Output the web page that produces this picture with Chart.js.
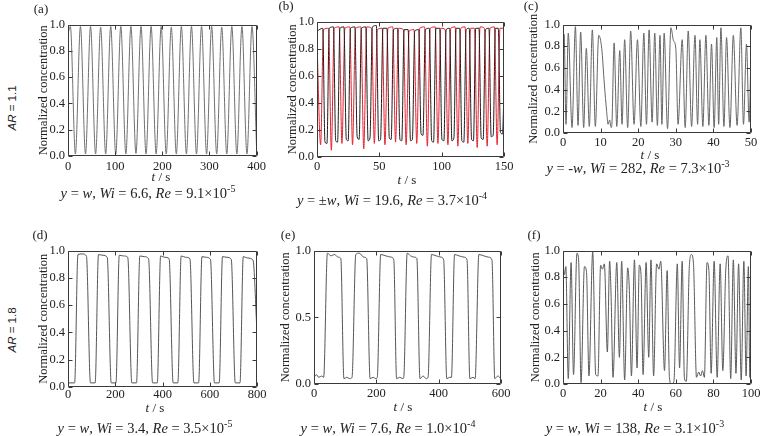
<!DOCTYPE html>
<html>
<head>
<meta charset="utf-8">
<script src="https://cdn.jsdelivr.net/npm/chart.js@4.4.1/dist/chart.umd.min.js"></script>
<style>
	body { margin: 0; background: #fff; }
	#figure { position: relative; width: 760px; height: 436px; overflow: hidden; background: #fff; font-family: 'Liberation Serif', serif; color: #222; }
	#figure canvas { position: absolute; }
	.txt { position: absolute; transform: translate( -50%, -50% ); white-space: nowrap; }
	.cap { font-size: 14.5px; }
	.cap sup { font-size: 10px; vertical-align: 6px; line-height: 0; }
	.lab { font-size: 13px; }
	.ar { font-family: 'Liberation Sans', sans-serif; font-size: 11.5px; transform: translate( -50%, -50% ) rotate( -90deg ); }
</style>
</head>
<body>
<div id="figure"></div>
<script>
// (a) AR = 1.1, y = w
const aTime = [ 0, 5, 15.7, 26.4, 37.1, 47.8, 58.5, 69.2, 79.9, 90.6, 101.3, 112, 122.7, 133.4, 144.1, 154.8, 165.5, 176.2, 186.9, 197.6,
	208.3, 219, 229.7, 240.4, 251.1, 261.8, 272.5, 283.2, 293.9, 304.6, 315.3, 326, 336.7, 347.4, 358.1, 368.8, 379.5, 390.2, 400 ];
const aConc = [ 0.93, 0.985, 0.015, 0.985, 0.015, 0.985, 0.015, 0.98, 0.015, 0.985, 0.015, 0.985, 0.015, 0.985, 0.02, 0.985, 0.015, 0.985, 0.015, 0.985,
	0.015, 0.98, 0.015, 0.985, 0.015, 0.985, 0.015, 0.985, 0.015, 0.985, 0.015, 0.98, 0.015, 0.985, 0.015, 0.985, 0.015, 0.985, 0.05 ];

// (b) AR = 1.1, y = +w (black) and y = -w (red)
const bTime = [ 0,
	4.6, 6.4, 8.0, 9.8, 13.2, 15.0, 16.5, 18.4, 21.6, 23.5, 25.0, 26.9,
	30.4, 32.2, 33.8, 35.6, 39.1, 41.0, 42.5, 44.4, 47.6, 49.5, 51.0, 52.9,
	56.1, 58.0, 59.5, 61.4, 64.6, 66.5, 68.0, 69.9, 73.1, 75.0, 76.5, 78.4,
	81.6, 83.5, 85.0, 86.9, 90.1, 92.0, 93.5, 95.4, 98.4, 100.2, 101.8, 103.6,
	106.4, 108.2, 109.8, 111.6, 114.4, 116.2, 117.8, 119.6, 122.1, 124.0, 125.5, 127.3,
	129.9, 131.7, 133.3, 135.1, 137.9, 139.7, 141.3, 143.1, 145.4, 147.2, 148.8, 150 ];
const bBlack = [ 0.93,
	0.95, 0.11, 0.10, 0.95, 0.96, 0.12, 0.11, 0.95, 0.96, 0.13, 0.12, 0.95,
	0.96, 0.15, 0.13, 0.95, 0.96, 0.12, 0.14, 0.96, 0.97, 0.12, 0.13, 0.95,
	0.95, 0.14, 0.13, 0.94, 0.95, 0.13, 0.12, 0.94, 0.94, 0.12, 0.13, 0.93,
	0.94, 0.17, 0.16, 0.94, 0.95, 0.12, 0.11, 0.95, 0.95, 0.13, 0.12, 0.94,
	0.95, 0.12, 0.14, 0.95, 0.95, 0.12, 0.11, 0.94, 0.95, 0.13, 0.12, 0.95,
	0.95, 0.14, 0.13, 0.94, 0.95, 0.15, 0.16, 0.95, 0.95, 0.18, 0.17, 0.5 ];
const bRedTime = [ 0,
	2.9, 5.2, 9.3, 11.5, 13.8, 17.8, 20.0, 22.4, 26.3,
	28.5, 30.9, 35.2, 37.5, 39.9, 43.8, 46.0, 48.4, 52.3,
	54.5, 56.9, 60.8, 63.0, 65.4, 69.3, 71.5, 73.9, 77.8,
	80.0, 82.4, 86.3, 88.5, 90.9, 94.8, 97.0, 99.3, 102.8,
	105.0, 107.3, 110.8, 113.0, 115.3, 118.8, 121.0, 123.2, 126.3,
	128.5, 130.8, 134.3, 136.5, 138.8, 142.3, 144.5, 146.8, 150 ];
const bRed = [ 0.85,
	0.09, 0.94, 0.95, 0.05, 0.95, 0.96, 0.10, 0.95, 0.96,
	0.09, 0.95, 0.96, 0.06, 0.96, 0.95, 0.10, 0.94, 0.95,
	0.09, 0.95, 0.96, 0.11, 0.95, 0.94, 0.09, 0.93, 0.94,
	0.10, 0.95, 0.96, 0.08, 0.95, 0.96, 0.10, 0.95, 0.94,
	0.09, 0.95, 0.96, 0.08, 0.95, 0.96, 0.10, 0.95, 0.95,
	0.07, 0.96, 0.95, 0.08, 0.95, 0.96, 0.09, 0.95, 0.95 ];

// (c) AR = 1.1, y = -w
const cTime = [ 0, 0.3, 0.8, 1.4, 2.4, 3.3, 4.0, 4.7, 5.5, 6.2,
	7.0, 7.8, 8.6, 9.5, 10.3, 11.0, 11.6, 12.0, 12.4, 12.8,
	13.0, 13.6, 14.3, 15.1, 15.7, 16.4, 17.2, 18.0, 18.9, 19.8,
	20.7, 21.5, 22.2, 22.9, 23.7, 24.4, 25.1, 25.8, 26.3, 26.9,
	27.8, 28.7, 29.4, 30.0, 30.6, 31.7, 32.5, 33.3, 34.2, 35.1,
	35.8, 36.4, 37.2, 38.0, 38.8, 39.5, 40.2, 40.9, 41.4, 42.0,
	42.8, 43.5, 44.4, 45.3, 46.3, 47.3, 48.0, 48.8, 49.5, 50 ];
const cConc = [ 0.85, 0.91, 0.08, 0.92, 0.05, 0.98, 0.07, 0.93, 0.05, 0.78,
	0.06, 0.95, 0.06, 0.90, 0.78, 0.45, 0.20, 0.08, 0.12, 0.05,
	0.08, 0.83, 0.06, 0.76, 0.08, 0.86, 0.05, 0.94, 0.08, 0.86,
	0.06, 0.92, 0.08, 0.95, 0.10, 0.92, 0.07, 0.90, 0.08, 0.92,
	0.04, 0.97, 0.85, 0.78, 0.08, 0.86, 0.05, 0.94, 0.06, 0.90,
	0.08, 0.86, 0.06, 0.90, 0.07, 0.82, 0.05, 0.88, 0.08, 0.97,
	0.06, 0.88, 0.05, 0.90, 0.07, 0.97, 0.08, 0.82, 0.10, 0.75 ];

// (d) AR = 1.8, y = w
const dTime = [ 0, 28,
	42, 60, 78, 95,
	115, 129, 148, 166, 183,
	203, 217, 235, 253, 270,
	290, 304, 323, 341, 358,
	378, 392, 410, 428, 445,
	465, 479, 498, 516, 533,
	553, 567, 585, 603, 620,
	640, 654, 673, 691, 708,
	728, 742, 760, 783, 800 ];
const dConc = [ 0.03, 0.03,
	0.97, 0.975, 0.96, 0.03,
	0.03, 0.97, 0.965, 0.95, 0.03,
	0.03, 0.965, 0.96, 0.95, 0.03,
	0.03, 0.96, 0.955, 0.94, 0.03,
	0.03, 0.96, 0.95, 0.94, 0.03,
	0.03, 0.96, 0.95, 0.94, 0.03,
	0.03, 0.955, 0.95, 0.935, 0.03,
	0.03, 0.955, 0.95, 0.935, 0.03,
	0.03, 0.955, 0.945, 0.93, 0.4 ];

// (e) AR = 1.8, y = w
const eTime = [ 0, 8, 15, 25, 31,
	43, 55, 65, 78, 86, 96, 105, 115, 122,
	134, 145, 160, 169, 180, 190, 198, 203,
	214, 230, 248, 256, 265, 275, 285, 288,
	299, 310, 322, 330, 340, 350, 360, 366,
	377, 392, 408, 416, 426, 435, 441,
	451, 465, 482, 491, 500, 510, 517,
	529, 545, 560, 571, 580, 590, 600 ];
const eConc = [ 0.05, 0.07, 0.05, 0.06, 0.05,
	0.98, 0.96, 0.97, 0.95, 0.94, 0.04, 0.05, 0.04, 0.05,
	0.97, 0.98, 0.95, 0.94, 0.04, 0.05, 0.04, 0.05,
	0.97, 0.96, 0.95, 0.93, 0.04, 0.05, 0.04, 0.05,
	0.98, 0.96, 0.95, 0.94, 0.04, 0.06, 0.04, 0.05,
	0.97, 0.96, 0.95, 0.93, 0.04, 0.05, 0.05,
	0.97, 0.96, 0.95, 0.93, 0.04, 0.05, 0.04,
	0.97, 0.96, 0.95, 0.93, 0.04, 0.06, 0.04 ];

// (f) AR = 1.8, y = w
const fTime = [ 0, 0.8, 1.5, 2.8, 4.3, 5.6, 7.4, 8.3, 9.6, 11.4,
	12.5, 13.8, 15.8, 17.4, 18.6, 20.0, 21.0, 22.0, 23.6, 24.8,
	25.6, 26.6, 28.6, 30.0, 31.2, 32.8, 34.4, 35.3, 36.4, 38.0,
	39.4, 40.6, 41.5, 42.6, 44.2, 45.6, 46.8, 48.2, 49.8, 51.0,
	52.0, 54.0, 55.4, 56.6, 57.6, 59.0, 60.8, 62.0, 63.4, 64.6,
	65.6, 67.2, 68.3, 69.4, 71.0, 72.2, 73.2, 74.2, 75.2, 76.6,
	77.6, 78.8, 80.4, 82.0, 83.6, 85.0, 86.6, 87.8, 89.2, 90.6,
	92.0, 93.4, 94.8, 96.2, 97.4, 98.6, 99.4, 100 ];
const fConc = [ 0.90, 0.82, 0.88, 0.04, 0.91, 0.07, 0.98, 0.93, 0.01, 0.88,
	0.84, 0.06, 0.99, 0.07, 0.06, 0.89, 0.86, 0.90, 0.24, 0.92,
	0.65, 0.05, 0.91, 0.20, 0.92, 0.03, 0.87, 0.70, 0.06, 0.93,
	0.12, 0.89, 0.82, 0.07, 0.91, 0.20, 0.93, 0.06, 0.90, 0.86,
	0.92, 0.10, 0.85, 0.05, 0.00, 0.02, 0.90, 0.12, 0.92, 0.04,
	0.02, 0.88, 0.97, 0.90, 0.05, 0.09, 0.06, 0.10, 0.05, 0.91,
	0.85, 0.08, 0.92, 0.05, 0.90, 0.10, 0.86, 0.96, 0.04, 0.93,
	0.08, 0.90, 0.03, 0.92, 0.06, 0.88, 0.05, 0.20 ];

// Tick labels
const aTicks = [ 0, 100, 200, 300, 400 ];
const bTicks = [ 0, 50, 100, 150 ];
const cTicks = [ 0, 10, 20, 30, 40, 50 ];
const dTicks = [ 0, 200, 400, 600, 800 ];
const eTicks = [ 0, 200, 400, 600 ];
const fTicks = [ 0, 20, 40, 60, 80, 100 ];
const concTicks = [ 0, 0.2, 0.4, 0.6, 0.8, 1.0 ];
const concTicksHalf = [ 0, 0.5, 1.0 ];

// Box round the plot area with inward ticks on all four sides
const framePlugin = {
	id: 'frame',
	afterDatasetsDraw: function ( chart ) {
		const ctx = chart.ctx;
		const area = chart.chartArea;
		const xs = chart.scales.x;
		const ys = chart.scales.y;
		const l = Math.round( area.left ) + 0.5;
		const r = Math.round( area.right ) - 0.5;
		const t = Math.round( area.top ) + 0.5;
		const b = Math.round( area.bottom ) - 0.5;
		ctx.save();
		ctx.strokeStyle = '#3a3a3a';
		ctx.lineWidth = 1;
		ctx.beginPath();
		ctx.rect( l, t, r - l, b - t );
		xs.ticks.forEach( function ( tick ) {
			const px = Math.round( xs.getPixelForValue( tick.value ) ) + 0.5;
			ctx.moveTo( px, b );
			ctx.lineTo( px, b - 4 );
			ctx.moveTo( px, t );
			ctx.lineTo( px, t + 4 );
		} );
		ys.ticks.forEach( function ( tick ) {
			const py = Math.round( ys.getPixelForValue( tick.value ) ) + 0.5;
			ctx.moveTo( l, py );
			ctx.lineTo( l + 4, py );
			ctx.moveTo( r, py );
			ctx.lineTo( r - 4, py );
		} );
		ctx.stroke();
		ctx.restore();
	}
};

const varCap = '<i>y</i> = <i>w</i>, <i>Wi</i> = ';

let Figure = {

	panels: [
		{ box: [ 68, 22, 257, 156 ], titleX: 43, xTicks: aTicks, yTicks: concTicks, tickPad: 3,
			series: [ { time: aTime, conc: aConc, color: '#707070' } ],
			letter: '(a)', letterAt: [ 41, 9 ], tAt: [ 161, 177 ], capAt: [ 148, 193 ],
			caption: varCap + '6.6, <i>Re</i> = 9.1×10<sup>-5</sup>' },
		{ box: [ 317, 19, 504, 157 ], titleX: 292, xTicks: bTicks, yTicks: concTicks, tickPad: 2,
			series: [
				{ time: bTime, conc: bBlack, color: '#1e1e1e' },
				{ time: bRedTime, conc: bRed, color: '#e4202e' }
			],
			letter: '(b)', letterAt: [ 286, 6 ], tAt: [ 407, 180 ], capAt: [ 392, 200 ],
			caption: '<i>y</i> = ±<i>w</i>, <i>Wi</i> = 19.6, <i>Re</i> = 3.7×10<sup>-4</sup>' },
		{ box: [ 563, 22, 751, 133 ], titleX: 533, xTicks: cTicks, yTicks: concTicks, tickPad: 2,
			series: [ { time: cTime, conc: cConc, color: '#666666' } ],
			letter: '(c)', letterAt: [ 531, 6 ], tAt: [ 650, 155 ], capAt: [ 638, 168 ],
			caption: '<i>y</i> = -<i>w</i>, <i>Wi</i> = 282, <i>Re</i> = 7.3×10<sup>-3</sup>' },
		{ box: [ 68, 248, 257, 387 ], titleX: 43, xTicks: dTicks, yTicks: concTicks, tickPad: 0,
			series: [ { time: dTime, conc: dConc, color: '#555555' } ],
			letter: '(d)', letterAt: [ 40, 235 ], tAt: [ 155, 408 ], capAt: [ 145, 428 ],
			caption: varCap + '3.4, <i>Re</i> = 3.5×10<sup>-5</sup>' },
		{ box: [ 314, 248, 501, 384 ], titleX: 285, xTicks: eTicks, yTicks: concTicksHalf, tickPad: 2,
			series: [ { time: eTime, conc: eConc, color: '#555555' } ],
			letter: '(e)', letterAt: [ 288, 235 ], tAt: [ 403, 407 ], capAt: [ 388, 428 ],
			caption: varCap + '7.6, <i>Re</i> = 1.0×10<sup>-4</sup>' },
		{ box: [ 563, 248, 751, 384 ], titleX: 535, xTicks: fTicks, yTicks: concTicks, tickPad: 2,
			series: [ { time: fTime, conc: fConc, color: '#5a5a5a' } ],
			letter: '(f)', letterAt: [ 534, 235 ], tAt: [ 653, 407 ], capAt: [ 635, 428 ],
			caption: varCap + '138, <i>Re</i> = 3.1×10<sup>-3</sup>' }
	],

	init: function () {
		const fig = document.getElementById( 'figure' );
		Figure.addText( fig, 'ar', '<i>AR</i> = 1.1', 12, 108 );
		Figure.addText( fig, 'ar', '<i>AR</i> = 1.8', 12, 330 );
		Figure.panels.forEach( function ( p ) {
			Figure.makeChart( fig, p );
			Figure.addText( fig, 'lab', p.letter, p.letterAt[ 0 ], p.letterAt[ 1 ] );
			Figure.addText( fig, 'lab', '<i>t</i> / s', p.tAt[ 0 ], p.tAt[ 1 ] );
			Figure.addText( fig, 'cap', p.caption, p.capAt[ 0 ], p.capAt[ 1 ] );
		} );
	},

	addText: function ( fig, cls, html, x, y ) {
		const div = document.createElement( 'div' );
		div.className = 'txt ' + cls;
		div.innerHTML = html;
		div.style.left = x + 'px';
		div.style.top = y + 'px';
		fig.appendChild( div );
	},

	makeChart: function ( fig, p ) {
		const padTop = 8;
		const padRight = 12;
		const xHeight = 18;
		const left = Math.round( p.titleX - 7 );
		const top = p.box[ 1 ] - padTop;
		const width = p.box[ 2 ] + padRight - left;
		const height = p.box[ 3 ] + xHeight - top;
		const yWidth = p.box[ 0 ] - left;

		const canvas = document.createElement( 'canvas' );
		canvas.width = width;
		canvas.height = height;
		canvas.style.left = left + 'px';
		canvas.style.top = top + 'px';
		fig.appendChild( canvas );

		const tickFont = { family: 'Liberation Serif', size: 12.5 };
		const xTicks = p.xTicks;
		const yTicks = p.yTicks;

		return new Chart( canvas, {
			type: 'line',
			data: {
				datasets: p.series.map( function ( s ) {
					return {
						data: s.time.map( ( t, i ) => ( { x: t, y: s.conc[ i ] } ) ),
						borderColor: s.color,
						borderWidth: 1,
						pointRadius: 0,
						cubicInterpolationMode: 'monotone',
						fill: false
					};
				} )
			},
			options: {
				responsive: false,
				animation: false,
				events: [],
				layout: { padding: { left: 0, top: padTop, right: padRight, bottom: 0 } },
				plugins: {
					legend: { display: false },
					tooltip: { enabled: false }
				},
				scales: {
					x: {
						type: 'linear',
						min: xTicks[ 0 ],
						max: xTicks[ xTicks.length - 1 ],
						afterBuildTicks: function ( scale ) {
							scale.ticks = xTicks.map( ( v ) => ( { value: v } ) );
						},
						afterFit: function ( scale ) {
							scale.height = xHeight;
						},
						grid: { display: false, drawTicks: false },
						border: { display: false },
						ticks: {
							font: tickFont,
							color: '#222',
							padding: p.tickPad,
							maxRotation: 0,
							autoSkip: false
						}
					},
					y: {
						type: 'linear',
						min: 0,
						max: 1,
						afterBuildTicks: function ( scale ) {
							scale.ticks = yTicks.map( ( v ) => ( { value: v } ) );
						},
						afterFit: function ( scale ) {
							scale.width = yWidth;
						},
						grid: { display: false, drawTicks: false },
						border: { display: false },
						title: {
							display: true,
							text: 'Normalized concentration',
							font: tickFont,
							color: '#222',
							padding: 0
						},
						ticks: {
							font: tickFont,
							color: '#222',
							padding: 3,
							autoSkip: false,
							callback: ( v ) => v.toFixed( 1 )
						}
					}
				}
			},
			plugins: [ framePlugin ]
		} );
	}
};

Figure.init();
</script>
</body>
</html>
